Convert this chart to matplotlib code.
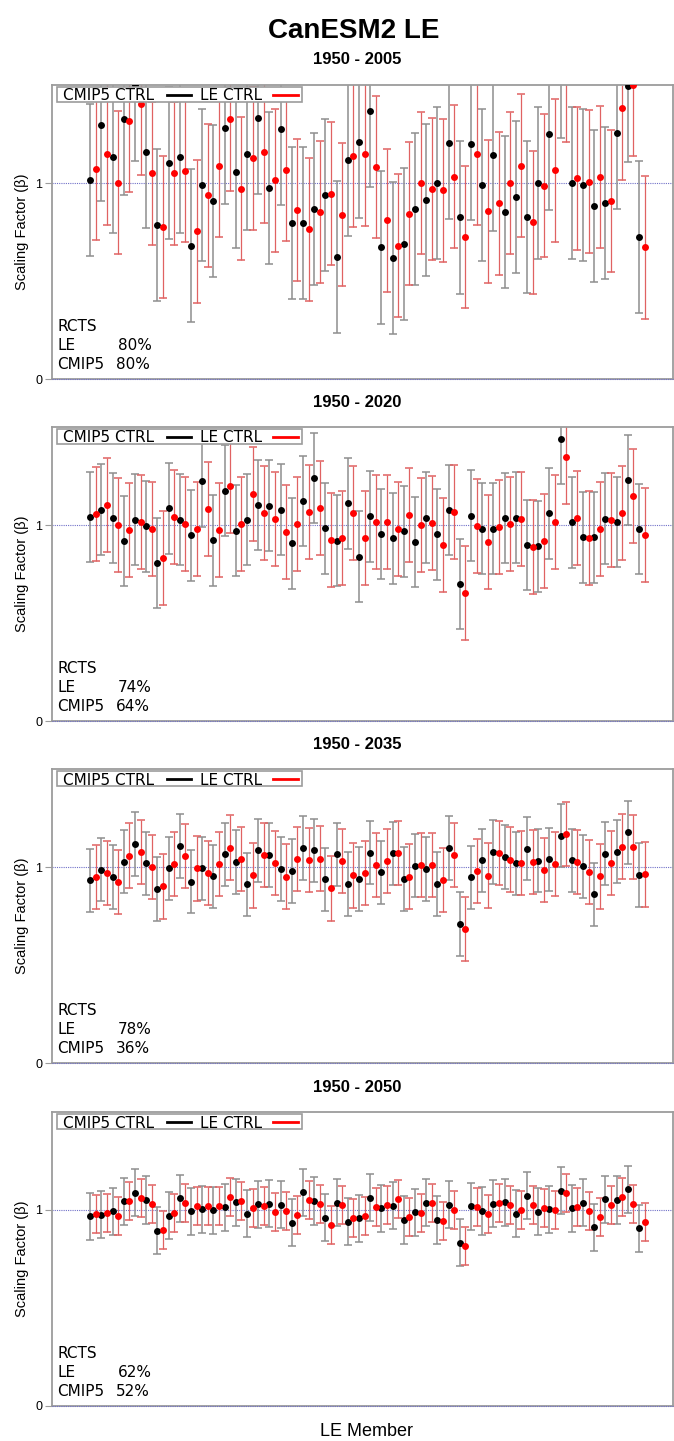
import matplotlib
matplotlib.use("Agg")
import matplotlib.pyplot as plt
from matplotlib.lines import Line2D
from matplotlib.patches import Rectangle
import numpy as np

# ---------------------------------------------------------------- data
periods = ["1950 - 2005", "1950 - 2020", "1950 - 2035", "1950 - 2050"]

# Scaling factors (beta) per LE member, CMIP5-control based estimate
cmip5_2005 = [1.015, 1.295, 1.135, 1.326, 1.500, 1.157, 0.787, 1.101, 1.131, 0.681,
              0.990, 0.910, 1.280, 1.055, 1.147, 1.333, 0.976, 1.276, 0.795, 0.797,
              0.869, 0.937, 0.621, 1.116, 1.210, 1.367, 0.671, 0.618, 0.689, 0.867,
              0.915, 1.002, 1.206, 0.824, 1.201, 0.990, 1.143, 0.850, 0.927, 0.828,
              1.000, 1.249, 1.620, 1.000, 0.988, 0.881, 0.898, 1.254, 1.495, 0.724]
le_2005 = [1.073, 1.150, 1.002, 1.316, 1.404, 1.049, 0.775, 1.049, 1.063, 0.754,
           0.937, 1.089, 1.324, 0.971, 1.126, 1.159, 1.014, 1.067, 0.863, 0.763,
           0.852, 0.945, 0.838, 1.140, 1.147, 1.082, 0.809, 0.681, 0.843, 1.000,
           0.969, 0.962, 1.032, 0.724, 1.150, 0.855, 0.896, 1.000, 1.089, 0.799,
           0.986, 1.065, 1.575, 1.024, 1.007, 1.031, 0.908, 1.381, 1.500, 0.671]

cmip5_2020 = [1.041, 1.078, 1.036, 0.918, 1.027, 0.993, 0.807, 1.085, 1.027, 0.947,
              1.223, 0.922, 1.175, 0.971, 1.027, 1.102, 1.099, 1.078, 0.906, 1.123,
              1.240, 0.983, 0.920, 1.111, 0.838, 1.044, 0.954, 0.932, 0.968, 0.913,
              1.037, 0.952, 1.077, 0.698, 1.048, 0.981, 0.981, 1.036, 1.037, 0.899,
              0.891, 1.060, 1.441, 1.014, 0.937, 0.937, 1.032, 1.015, 1.230, 0.980]
le_2020 = [1.055, 1.100, 1.002, 0.973, 1.014, 0.981, 0.831, 1.041, 1.007, 0.980,
           1.083, 0.973, 1.199, 1.007, 1.157, 1.060, 1.031, 0.966, 1.007, 1.066,
           1.085, 0.922, 0.935, 1.061, 0.934, 1.015, 1.014, 0.981, 1.051, 1.000,
           1.009, 0.899, 1.065, 0.652, 0.997, 0.911, 0.988, 1.007, 1.031, 0.889,
           0.920, 1.017, 1.348, 1.034, 0.935, 0.981, 1.027, 1.060, 1.147, 0.947]

cmip5_2035 = [0.932, 0.986, 0.949, 1.027, 1.118, 1.019, 0.887, 0.993, 1.108, 0.925,
              0.993, 0.952, 1.065, 1.026, 0.911, 1.085, 1.060, 0.991, 0.980, 1.096,
              1.085, 0.937, 1.065, 0.914, 0.939, 1.073, 0.973, 1.070, 0.939, 1.007,
              0.990, 0.913, 1.096, 0.708, 0.947, 1.034, 1.077, 1.051, 1.019, 1.094,
              1.032, 1.039, 1.160, 1.034, 1.003, 0.860, 1.068, 1.078, 1.177, 0.959]
le_2035 = [0.949, 0.969, 0.923, 1.058, 1.078, 1.000, 0.901, 1.017, 1.056, 0.993,
           0.971, 1.017, 1.099, 1.041, 0.957, 1.063, 1.019, 0.951, 1.041, 1.036,
           1.043, 0.891, 1.029, 0.957, 0.969, 1.012, 1.029, 1.072, 0.951, 1.012,
           1.012, 0.932, 1.060, 0.684, 0.978, 0.956, 1.073, 1.038, 1.020, 1.024,
           0.986, 1.015, 1.169, 1.024, 0.976, 0.952, 1.019, 1.104, 1.102, 0.962]

cmip5_2050 = [0.968, 0.976, 0.993, 1.044, 1.089, 1.051, 0.893, 0.971, 1.061, 0.993,
              1.003, 0.998, 1.015, 1.039, 0.981, 1.029, 1.032, 1.027, 0.935, 1.090,
              1.046, 0.961, 1.037, 0.941, 0.957, 1.063, 1.009, 1.022, 0.949, 0.988,
              1.036, 0.949, 1.026, 0.833, 1.020, 0.995, 1.031, 1.039, 0.981, 1.073,
              0.991, 1.005, 1.099, 1.009, 1.036, 0.913, 1.055, 1.051, 1.106, 0.906]
le_2050 = [0.978, 0.986, 0.969, 1.046, 1.061, 1.031, 0.899, 0.985, 1.034, 1.019,
           1.019, 1.020, 1.068, 1.048, 1.009, 1.019, 0.991, 0.997, 0.973, 1.051,
           1.032, 0.922, 1.027, 0.957, 0.971, 1.015, 1.026, 1.055, 0.964, 0.986,
           1.037, 0.945, 0.998, 0.818, 1.014, 0.981, 1.037, 1.027, 0.998, 1.024,
           1.009, 1.000, 1.087, 1.017, 0.995, 0.966, 1.026, 1.065, 1.031, 0.940]

# half-width of the confidence interval, one value per period
cmip5_halfwidth = [0.388, 0.231, 0.162, 0.120]
le_halfwidth = [0.364, 0.240, 0.164, 0.097]

# residual consistency test pass rates (%)
rcts_le = [80, 74, 78, 62]
rcts_cmip5 = [80, 64, 36, 52]

cmip5_series = [cmip5_2005, cmip5_2020, cmip5_2035, cmip5_2050]
le_series = [le_2005, le_2020, le_2035, le_2050]
members = np.arange(1, 51)

# ---------------------------------------------------------------- layout
W, H = 674, 1441
NARROW = ["Liberation Sans Narrow", "Liberation Sans", "DejaVu Sans"]
SANS = ["Liberation Sans", "DejaVu Sans"]
DEJAVU = ["DejaVu Sans"]

fig = plt.figure(figsize=(W / 100, H / 100), dpi=100)


def fx(px):
    return px / W


def fy(py):
    return 1 - py / H


panel_tops = [85, 427, 769, 1112]
panel_h = 294
ax_l, ax_r = 52, 673
frame_col = "#9c9c9c"
ref_col = "#7070c8"

fig.text(fx(354), fy(31), "CanESM2 LE", ha="center", va="center",
         fontsize=20, fontweight="bold", family=NARROW)

for i, top in enumerate(panel_tops):
    bottom = top + panel_h
    ax = fig.add_axes([fx(ax_l), fy(bottom), (ax_r - ax_l) / W, panel_h / H])
    ax.set_xlim(-2.66, 52.79)
    ax.set_ylim(0, 1.5)
    for s in ax.spines.values():
        s.set_color(frame_col)
        s.set_linewidth(1.3)
    ax.set_xticks([])
    ax.set_yticks([0, 1])
    ax.set_yticklabels(["0", "1"], family=SANS)
    ax.tick_params(axis="y", length=5, color=frame_col, labelsize=9, pad=2)

    ax.axhline(1, color=ref_col, lw=0.8, ls=(0, (1, 1)), zorder=1)
    ax.axhline(0, color=ref_col, lw=0.8, ls=(0, (1, 1)), zorder=3, clip_on=False)

    xb = members - 0.25
    xr = members + 0.25
    eb_b = ax.errorbar(xb, cmip5_series[i], yerr=cmip5_halfwidth[i], fmt="none",
                       ecolor="#8e8e8e", elinewidth=1.1, capsize=2.9,
                       capthick=1.1, zorder=2)
    for cap in eb_b[1]:
        cap.set_color("#5a5a5a")
    eb_r = ax.errorbar(xr, le_series[i], yerr=le_halfwidth[i], fmt="none",
                       ecolor="#e06262", elinewidth=0.9, capsize=2.9,
                       capthick=1.1, zorder=2)
    for cap in eb_r[1]:
        cap.set_color("#f09c9c")
    ax.plot(xb, cmip5_series[i], "o", color="black", ms=5.0, mec="none", zorder=4)
    ax.plot(xr, le_series[i], "o", color="red", ms=5.0, mec="none", zorder=4)

    # panel heading
    fig.text(fx(357), fy(top - 25), periods[i], ha="center", va="center",
             fontsize=12, fontweight="bold", family=NARROW)

    # y label
    fig.text(fx(22), fy(top + panel_h / 2), "Scaling Factor (\u03b2)",
             rotation=90, ha="center", va="center", fontsize=10.5, family=SANS)

    # legend box
    fig.add_artist(Rectangle((fx(57), fy(top + 17)), (302 - 57) / W, 15 / H,
                             transform=fig.transFigure, facecolor="white",
                             edgecolor=frame_col, lw=1.2, zorder=5))
    fig.text(fx(63), fy(top + 15.5), "CMIP5 CTRL", ha="left", va="baseline",
             fontsize=11, family=DEJAVU, zorder=6)
    fig.add_artist(Line2D([fx(167), fx(191)], [fy(top + 9.5)] * 2,
                          transform=fig.transFigure, color="black", lw=2.0, zorder=6))
    fig.text(fx(200), fy(top + 15.5), "LE CTRL", ha="left", va="baseline",
             fontsize=11, family=DEJAVU, zorder=6)
    fig.add_artist(Line2D([fx(273), fx(298)], [fy(top + 9.5)] * 2,
                          transform=fig.transFigure, color="red", lw=2.0, zorder=6))

    # RCTS summary
    fig.text(fx(57), fy(bottom - 48), "RCTS", ha="left", va="baseline",
             fontsize=11, family=DEJAVU)
    fig.text(fx(57), fy(bottom - 29), "LE", ha="left", va="baseline",
             fontsize=11, family=DEJAVU)
    fig.text(fx(118), fy(bottom - 29), f"{rcts_le[i]}%", ha="left", va="baseline",
             fontsize=11, family=DEJAVU)
    fig.text(fx(57), fy(bottom - 10), "CMIP5", ha="left", va="baseline",
             fontsize=11, family=DEJAVU)
    fig.text(fx(116), fy(bottom - 10), f"{rcts_cmip5[i]}%", ha="left", va="baseline",
             fontsize=11, family=DEJAVU)

fig.text(fx(367), fy(1432), "LE Member", ha="center", va="center",
         fontsize=13, family=NARROW)

fig.savefig("out.png", dpi=100)
